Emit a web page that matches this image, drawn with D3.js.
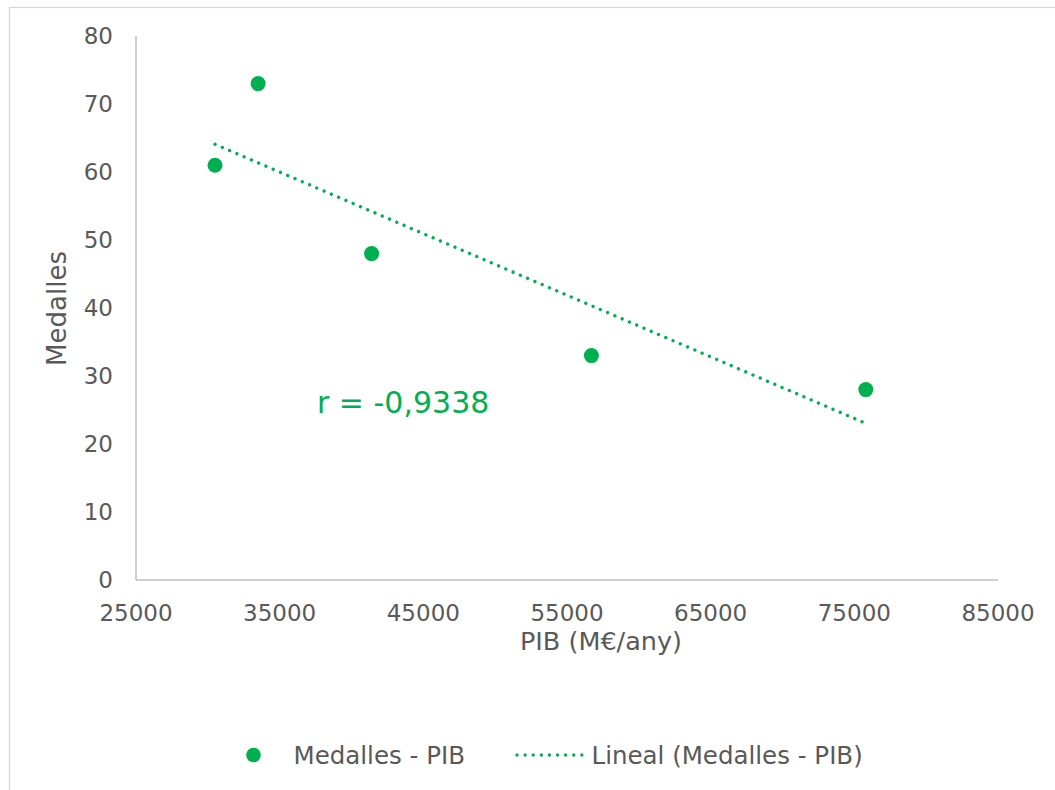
<!DOCTYPE html>
<html>
<head>
<meta charset="utf-8">
<script src="https://cdn.jsdelivr.net/npm/d3@7"></script>
<style>
  html, body { margin: 0; padding: 0; background: #ffffff; }
  svg { display: block; font-family: "DejaVu Sans", Verdana, sans-serif; }
</style>
</head>
<body>
<svg id="chart" width="1055" height="790"></svg>
<script>
// ---- data ----
const pib = [30500, 33500, 41400, 56700, 75800];      // PIB (M€/any)
const medalles = [61, 73, 48, 33, 28];                 // Medalles
const xTicks = [25000, 35000, 45000, 55000, 65000, 75000, 85000];
const yTicks = [0, 10, 20, 30, 40, 50, 60, 70, 80];
const seriesName = "Medalles - PIB";
const trendName = "Lineal (Medalles - PIB)";
const rLabel = "r = -0,9338";
const xTitle = "PIB (M€/any)";
const yTitle = "Medalles";

const green = "#00b050";
const textColor = "#595959";
const axisColor = "#bfbfbf";

const svg = d3.select("#chart");

// outer chart frame (extends past the window on right/bottom)
svg.append("rect")
  .attr("x", 9.5).attr("y", 7.5)
  .attr("width", 1200).attr("height", 900)
  .attr("fill", "#ffffff")
  .attr("stroke", "#d9d9d9")
  .attr("stroke-width", 1.3);

const x = d3.scaleLinear().domain([25000, 85000]).range([136, 998]);
const y = d3.scaleLinear().domain([0, 80]).range([580, 36]);

// axes lines
svg.append("line")
  .attr("x1", x(25000)).attr("x2", x(25000))
  .attr("y1", y(0)).attr("y2", y(80))
  .attr("stroke", axisColor).attr("stroke-width", 1.5);
svg.append("line")
  .attr("x1", x(25000)).attr("x2", x(85000))
  .attr("y1", y(0)).attr("y2", y(0))
  .attr("stroke", axisColor).attr("stroke-width", 1.5);

// y tick labels
svg.append("g").selectAll("text").data(yTicks).join("text")
  .attr("x", 113)
  .attr("y", d => y(d) + 8.3)
  .attr("text-anchor", "end")
  .attr("font-size", 23)
  .attr("fill", textColor)
  .text(d => d);

// x tick labels
svg.append("g").selectAll("text").data(xTicks).join("text")
  .attr("x", d => x(d))
  .attr("y", 621)
  .attr("text-anchor", "middle")
  .attr("font-size", 23)
  .attr("fill", textColor)
  .text(d => d);

// axis titles
svg.append("text")
  .attr("x", 601).attr("y", 650)
  .attr("text-anchor", "middle")
  .attr("font-size", 25.5)
  .attr("fill", textColor)
  .text(xTitle);

svg.append("text")
  .attr("transform", "translate(66,308.5) rotate(-90)")
  .attr("text-anchor", "middle")
  .attr("font-size", 26)
  .attr("fill", textColor)
  .text(yTitle);

// linear trendline (least squares)
const n = pib.length;
const mx = d3.mean(pib), my = d3.mean(medalles);
let sxy = 0, sxx = 0;
for (let i = 0; i < n; i++) {
  sxy += (pib[i] - mx) * (medalles[i] - my);
  sxx += (pib[i] - mx) * (pib[i] - mx);
}
const slope = sxy / sxx, intercept = my - slope * mx;
const [xmin, xmax] = d3.extent(pib);
const trend = [[xmin, intercept + slope * xmin], [xmax, intercept + slope * xmax]];

svg.append("path")
  .datum(trend)
  .attr("d", d3.line().x(d => x(d[0])).y(d => y(d[1])))
  .attr("fill", "none")
  .attr("stroke", green)
  .attr("stroke-width", 3.4)
  .attr("stroke-linecap", "round")
  .attr("stroke-dasharray", "0.01 7.9");

// points
svg.append("g").selectAll("circle").data(pib).join("circle")
  .attr("cx", d => x(d))
  .attr("cy", (d, i) => y(medalles[i]))
  .attr("r", 7.5)
  .attr("fill", green);

// r label
svg.append("text")
  .attr("x", 317).attr("y", 413)
  .attr("font-size", 30)
  .attr("fill", green)
  .text(rLabel);

// legend
const lg = svg.append("g");
lg.append("circle").attr("cx", 253.5).attr("cy", 755).attr("r", 7.3).attr("fill", green);
lg.append("text").attr("x", 293.5).attr("y", 764)
  .attr("font-size", 24.5).attr("fill", textColor).text(seriesName);
lg.append("line")
  .attr("x1", 517).attr("x2", 582).attr("y1", 755).attr("y2", 755)
  .attr("stroke", green).attr("stroke-width", 3.4)
  .attr("stroke-linecap", "round")
  .attr("stroke-dasharray", "0.01 8.1");
lg.append("text").attr("x", 591.5).attr("y", 764)
  .attr("font-size", 24.5).attr("fill", textColor).text(trendName);
</script>
</body>
</html>
